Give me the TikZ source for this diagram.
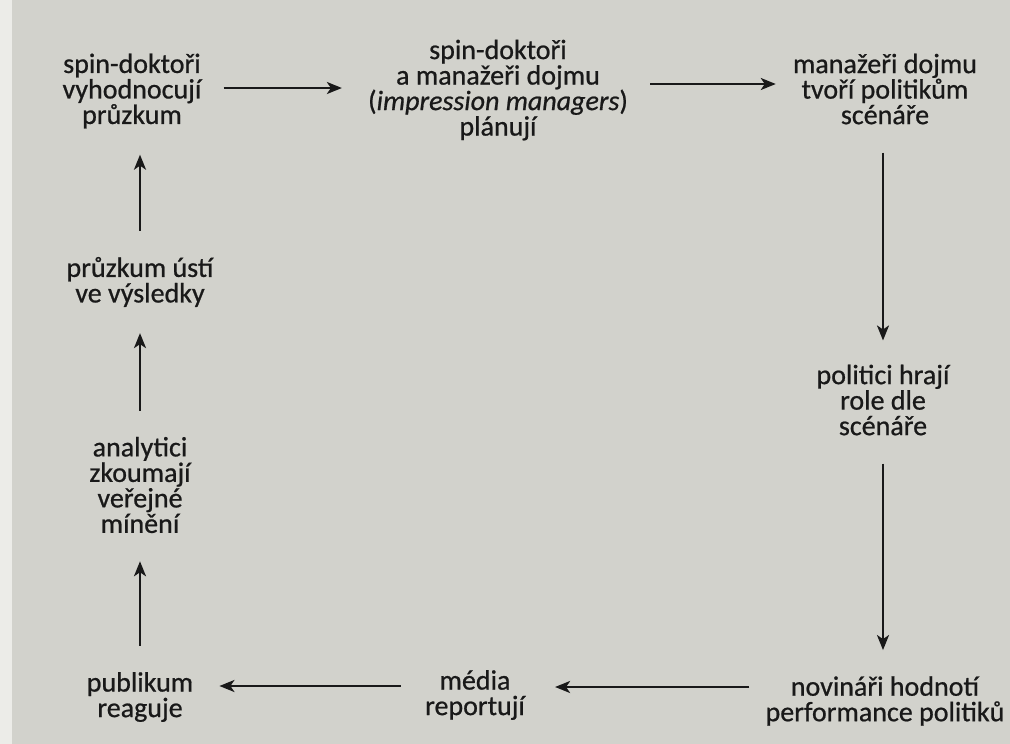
\documentclass[tikz,border=0pt]{standalone}
\usepackage{fontspec}
\setmainfont{Carlito}[FakeBold=0.7]
\usetikzlibrary{arrows.meta}
\definecolor{paper}{RGB}{210,210,204}
\definecolor{paperedge}{RGB}{236,236,232}
\definecolor{ink}{RGB}{25,25,25}
\begin{document}
\begin{tikzpicture}[x=1pt,y=-1pt,
  lbl/.style={font=\fontsize{28}{25.5}\selectfont, align=center, inner sep=0pt, text=ink},
  arr/.style={draw=ink, line width=2.3pt, -{Stealth[length=15pt,width=12pt,inset=4pt]}}]
\fill[paper] (0,0) rectangle (1010,744);
\fill[paperedge] (0,0) rectangle (12,744);
\useasboundingbox (0,0) rectangle (1010,744);
\node[lbl] (n1) at (132,91) {spin-doktoři\\vyhodnocují\\průzkum};
\node[lbl] (n2) at (498,90) {spin-doktoři\\a manažeři dojmu\\(\textit{impression managers})\\plánují};
\node[lbl] (n3) at (885,89) {manažeři dojmu\\tvoří politikům\\scénáře};
\node[lbl] (n4) at (883,400) {politici hrají\\role dle\\scénáře};
\node[lbl] (n5) at (885,701) {novináři hodnotí\\performance politiků};
\node[lbl] (n6) at (475,695) {média\\reportují};
\node[lbl] (n7) at (140,697) {publikum\\reaguje};
\node[lbl] (n8) at (140,485) {analytici\\zkoumají\\veřejné\\mínění};
\node[lbl] (n9) at (140,282) {průzkum ústí\\ve výsledky};
\draw[arr, shorten <=22pt, shorten >=26pt] ([yshift=3pt]n1.east) -- ([yshift=3pt]n1.east -| n2.west);
\draw[arr, shorten <=22pt, shorten >=17pt] ([yshift=6pt]n2.east) -- ([yshift=6pt]n2.east -| n3.west);
\draw[arr, shorten <=28pt, shorten >=24pt] (n4.north |- n3.south) -- (n4.north);
\draw[arr, shorten <=28pt, shorten >=26pt] (n4.south) -- (n4.south |- n5.north);
\draw[arr, shorten <=16pt, shorten >=30pt] ([yshift=14pt]n5.west) -- ([yshift=14pt]n5.west -| n6.east);
\draw[arr, shorten <=24pt, shorten >=26pt] ([yshift=9pt]n6.west) -- ([yshift=9pt]n6.west -| n7.east);
\draw[arr, shorten <=26pt, shorten >=28pt] (n7.north) -- (n8.south);
\draw[arr, shorten <=26pt, shorten >=26pt] (n8.north) -- (n9.south);
\draw[arr, shorten <=26pt, shorten >=26pt] (n9.north) -- (n9.north |- n1.south);
\end{tikzpicture}
\end{document}
